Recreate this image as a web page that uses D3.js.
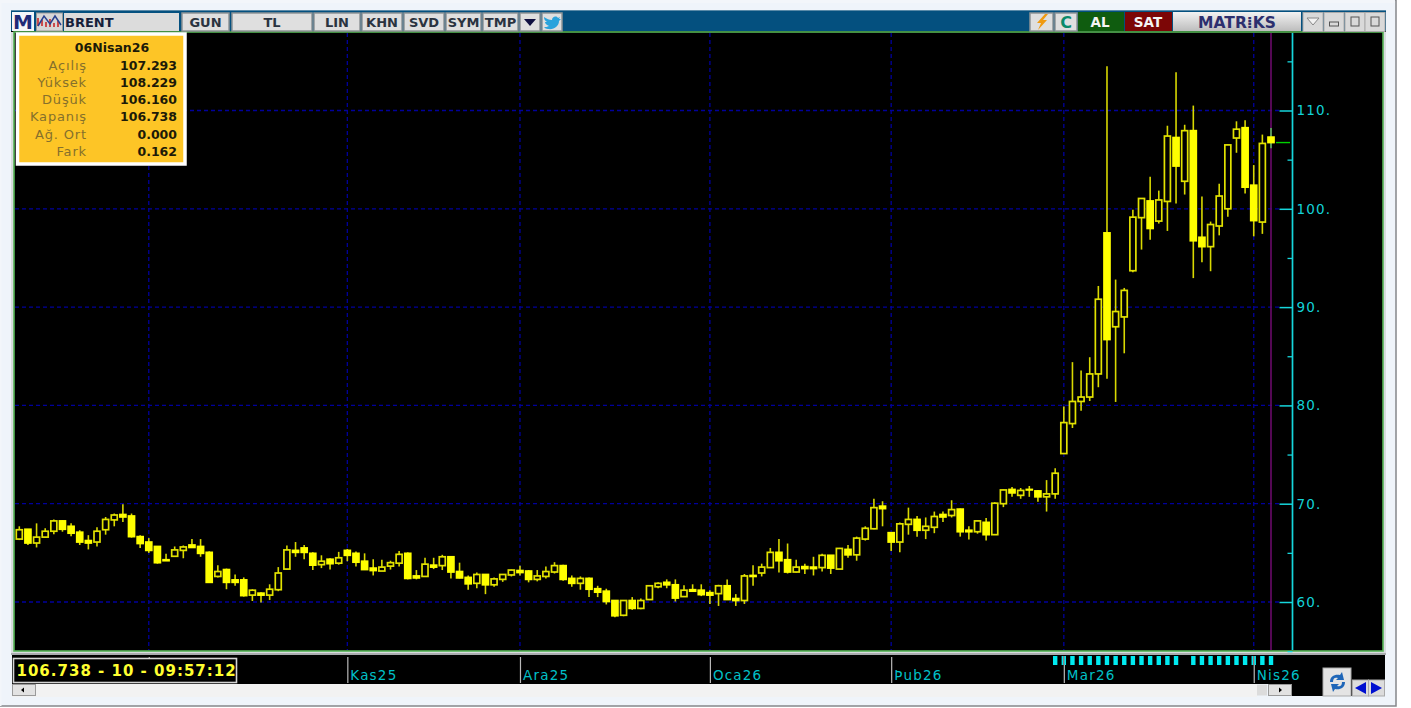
<!DOCTYPE html>
<html lang="tr">
<head>
<meta charset="UTF-8">
<title>BRENT</title>
<script src="https://d3js.org/d3.v7.min.js"></script>
<style>
  html, body { margin: 0; padding: 0; background: #fff; overflow: hidden; }
  svg { display: block; font-family: "DejaVu Sans", sans-serif; }
  .btn { fill: #dfdfdf; stroke: #8f9497; stroke-width: 1.5; }
  .btnText { font-family: "DejaVu Sans", sans-serif; font-size: 13px; font-weight: 700; fill: #2a3340; text-anchor: middle; }
  .axis path, .axis line { fill: none; }
  .infoLabel { font-size: 13px; fill: #85702c; text-anchor: end; letter-spacing: 0.85px; }
  .infoValue { font-size: 12.5px; font-weight: 700; fill: #1c1a08; text-anchor: end; }
</style>
</head>
<body>
<div id="chart"></div>
<script>
const opens = [
  66.4,67.4,66.0,66.6,67.2,68.25,67.7,67.1,66.25,66.1,
  67.35,68.35,68.9,68.75,66.65,66.1,65.65,64.3,64.65,65.25,
  65.8,65.65,65.05,62.6,63.3,62.25,62.25,60.7,60.9,60.7,
  61.25,63.35,65.25,65.5,64.95,63.8,64.35,63.95,65.25,64.95,
  64.15,63.45,63.15,63.65,63.95,64.95,62.65,62.6,63.75,63.7,
  64.6,63.1,62.5,61.9,62.8,61.75,62.3,62.75,63.2,63.15,
  62.3,62.6,63.05,63.7,62.4,61.9,62.4,61.35,61.1,60.15,
  58.65,60.15,59.35,60.25,61.55,62.0,61.75,60.55,61.25,61.2,
  60.95,60.85,61.65,60.35,60.15,62.7,62.95,63.5,65.05,64.3,
  63.05,63.6,63.55,63.5,64.75,63.35,65.35,64.8,66.4,67.45,
  69.75,67.05,66.1,67.9,68.4,67.3,67.6,68.9,68.8,69.45,
  67.3,67.15,68.1,66.85,70.0,71.45,70.85,71.45,71.3,70.7,
  71.0,75.1,78.15,80.4,80.85,83.2,97.55,88.0,89.0,93.7,
  99.1,100.8,98.75,100.75,107.25,102.8,107.95,97.1,96.15,98.25,
  100.0,107.2,108.25,102.4,98.65,107.293
];
const highs = [
  67.7,67.4,68.0,67.5,68.4,68.3,68.0,67.3,66.8,67.6,
  68.65,69.0,69.95,69.0,66.8,66.5,65.7,64.9,65.65,65.75,
  66.4,66.4,65.15,63.75,63.4,62.8,62.5,61.3,61.0,61.8,
  63.55,65.75,66.1,65.8,65.05,64.75,64.45,65.1,65.4,65.15,
  64.95,64.35,64.3,64.2,65.2,65.05,63.25,64.5,64.5,64.8,
  64.6,64.0,62.7,63.0,62.85,62.5,62.85,63.3,63.7,63.25,
  63.25,63.6,64.05,63.8,62.7,62.6,62.5,61.65,61.35,60.2,
  60.2,60.5,60.35,61.65,62.0,62.3,62.3,61.7,61.8,61.8,
  61.2,61.75,62.3,60.8,62.85,63.75,63.9,65.5,66.4,65.95,
  64.3,63.9,64.6,64.9,64.75,65.5,65.8,66.65,67.7,70.5,
  70.25,67.1,68.1,69.6,68.75,68.6,69.2,69.2,70.35,69.5,
  67.7,68.3,68.55,70.15,71.45,71.7,71.6,71.8,71.4,72.4,
  73.6,79.9,84.4,83.55,84.9,92.15,114.5,92.8,91.95,99.9,
  101.1,103.25,101.85,108.45,113.9,108.55,110.5,101.25,98.7,102.55,
  106.55,108.9,109.0,104.45,107.55,108.229
];
const lows = [
  66.3,65.8,65.55,66.5,66.9,67.15,66.7,65.8,65.35,65.65,
  66.85,67.7,68.15,66.55,65.5,65.0,63.9,64.2,64.6,64.45,
  65.5,64.6,61.95,62.5,61.3,61.65,60.55,60.1,59.95,60.2,
  61.1,63.3,64.6,64.35,63.25,63.45,63.3,63.8,64.15,63.6,
  63.3,62.7,63.15,63.3,63.6,62.3,62.3,62.6,63.35,63.25,
  62.4,62.4,61.25,61.4,60.8,61.55,62.05,62.6,62.7,62.0,
  62.1,62.4,62.9,62.15,61.55,61.25,60.5,60.5,59.75,58.45,
  58.55,59.2,59.25,60.2,61.4,61.4,60.05,60.5,61.1,60.6,
  59.8,59.6,60.2,59.6,59.8,61.65,62.6,63.5,63.0,62.9,
  63.0,62.85,62.7,63.1,62.85,63.35,64.5,64.2,66.25,67.4,
  67.7,65.2,65.05,66.85,66.65,66.4,67.0,68.15,68.6,66.65,
  66.35,66.95,66.25,66.85,69.65,70.7,70.5,70.7,70.2,69.2,
  70.5,75.05,77.7,79.45,80.45,81.85,82.7,80.35,85.3,93.55,
  95.85,96.85,98.5,97.75,100.55,101.45,92.95,94.55,93.65,97.3,
  99.2,105.7,101.55,97.2,97.45,106.16
];
const closes = [
  67.35,66.0,66.6,67.2,68.25,67.4,67.0,66.1,66.0,67.2,
  68.4,68.85,68.65,66.65,65.95,65.25,64.0,64.2,65.3,65.6,
  65.55,64.95,62.0,63.1,62.0,62.0,60.65,61.2,60.7,61.3,
  62.95,65.3,65.05,65.05,63.75,64.15,63.9,64.5,64.75,64.05,
  63.3,63.2,63.55,64.0,64.85,62.4,62.45,63.85,63.55,64.6,
  63.05,62.45,61.85,62.8,61.75,62.35,62.8,63.25,63.0,62.3,
  62.65,63.1,63.7,62.3,61.9,62.4,61.3,61.0,60.05,58.6,
  60.15,59.35,60.15,61.65,61.9,61.75,60.4,61.2,61.1,60.75,
  60.7,61.65,60.25,60.15,62.65,62.6,63.55,65.05,64.2,63.05,
  63.55,63.4,63.4,64.75,63.45,65.45,64.8,66.5,67.5,69.6,
  69.5,66.1,67.95,68.4,67.3,67.7,68.7,68.65,69.4,67.15,
  67.15,68.25,66.85,70.05,71.4,71.1,71.35,71.4,70.7,71.0,
  73.1,78.25,80.4,80.85,83.2,90.8,86.7,89.55,91.7,99.15,
  101.05,98.0,100.9,107.4,104.35,107.95,96.75,96.15,98.4,101.3,
  106.5,108.1,102.2,98.8,106.65,106.738
];

// first bar of each month and what the time axis calls it
const monthBars = [15, 38, 58, 80, 101, 121, 143];
const monthLabels = ["", "Kas25", "Ara25", "Oca26", "Þub26", "Mar26", "Nis26"];
const majorTicks = [60, 70, 80, 90, 100, 110];
const minorTicks = [55, 65, 75, 85, 95, 105, 115];
// bars carrying a cyan marker above the time axis
const markerBars = [120,121,122,123,124,125,126,127,128,129,130,131,132,133,134,136,137,138,139,140,141,142,143,144,145];

const infoDate = "06Nisan26";
const infoLabels = ["Açılış", "Yüksek", "Düşük", "Kapanış", "Ağ. Ort", "Fark"];
const infoValues = ["107.293", "108.229", "106.160", "106.738", "0.000", "0.162"];
const statusText = "106.738 - 10 - 09:57:12";

const leftButtons = [["GUN",182,47],["TL",232,80],["LIN",314,46],["KHN",362,40],["SVD",404,40],["SYM",446,35],["TMP",483,35]];
const width = 1411, height = 708;

const svg = d3.select("#chart").append("svg").attr("width", width).attr("height", height);

// window
svg.append("rect").attr("width", width).attr("height", height).attr("fill", "#ffffff");
svg.append("rect").attr("x", 0).attr("y", 0).attr("width", 1396).attr("height", 706)
  .attr("fill", "#eff4fa").attr("stroke", "#85878a").attr("stroke-width", 1.5);
svg.append("rect").attr("x", 0).attr("y", 0).attr("width", 1395).attr("height", 3).attr("fill", "#f3f6fa");
svg.append("rect").attr("x", 0).attr("y", 0).attr("width", 1.5).attr("height", 706).attr("fill", "#f3f6fa");

const btnGrad = svg.append("defs").append("linearGradient").attr("id", "matriks").attr("x2", 0).attr("y2", 1);
btnGrad.append("stop").attr("offset", "0").attr("stop-color", "#f2f2f2");
btnGrad.append("stop").attr("offset", "1").attr("stop-color", "#bdbdbd");

svg.append("rect").attr("x", 11).attr("y", 10).attr("width", 1375).attr("height", 22).attr("fill", "#04507f");
svg.append("rect").attr("x", 11).attr("y", 10).attr("width", 1375).attr("height", 1).attr("fill", "#5a8aa8");

// chart panel
const panel = { left: 15, right: 1382, top: 33, bottom: 650 };
svg.append("rect").attr("x", 11).attr("y", 31).attr("width", 1375).attr("height", 624).attr("fill", "#d8dcde");
svg.append("rect").attr("x", 11).attr("y", 31).attr("width", 1375).attr("height", 1).attr("fill", "#000");
svg.append("rect").attr("x", panel.left - 1).attr("y", panel.top - 1)
  .attr("width", panel.right - panel.left + 2).attr("height", panel.bottom - panel.top + 2)
  .attr("fill", "#000").attr("stroke", "#55b455").attr("stroke-width", 1.6);

const x = d3.scaleLinear().domain([0, closes.length - 1]).range([19.3, 1271]);
const y = d3.scaleLinear().domain([60, 110]).range([602, 110.5]);

// grid
const grid = svg.append("g").attr("stroke", "#00009c").attr("stroke-width", 1.3).attr("stroke-dasharray", "4 3");
grid.selectAll(".h").data(majorTicks).join("line")
  .attr("x1", panel.left).attr("x2", 1280)
  .attr("y1", d => y(d)).attr("y2", d => y(d));
grid.selectAll(".v").data(monthBars).join("line")
  .attr("x1", d => x(d)).attr("x2", d => x(d))
  .attr("y1", panel.top).attr("y2", panel.bottom);

// cursor line on the last bar
const lastBar = closes.length - 1;
svg.append("line").attr("x1", x(lastBar)).attr("x2", x(lastBar))
  .attr("y1", panel.top).attr("y2", panel.bottom)
  .attr("stroke", "#6a0a6a").attr("stroke-width", 1.6);

// candles
const bars = d3.range(closes.length).map(i => ({
  i, open: opens[i], high: highs[i], low: lows[i], close: closes[i]
}));
const candle = svg.append("g").selectAll("g").data(bars).join("g");
candle.append("line")
  .attr("x1", d => x(d.i)).attr("x2", d => x(d.i))
  .attr("y1", d => y(d.high)).attr("y2", d => y(d.low))
  .attr("stroke", d => d.i === lastBar ? "#58b858" : "#d8d800")
  .attr("stroke-width", 1.6);
candle.append("rect")
  .attr("x", d => x(d.i) - 3)
  .attr("width", 6)
  .attr("y", d => y(Math.max(d.open, d.close)))
  .attr("height", d => Math.abs(y(d.open) - y(d.close)))
  .attr("fill", d => d.close >= d.open ? "#000" : "#ffff00")
  .attr("stroke", d => d.close >= d.open ? "#e2e200" : "#ffff00")
  .attr("stroke-width", 1.7);

// price axis
svg.append("line").attr("x1", 1276).attr("x2", 1290)
  .attr("y1", y(closes[lastBar])).attr("y2", y(closes[lastBar]))
  .attr("stroke", "#00d000").attr("stroke-width", 1.4);

const tickAxis = svg.append("g").attr("class", "axis").attr("transform", "translate(1292.5,0)");
tickAxis.call(d3.axisLeft(y).tickValues(majorTicks).tickSize(13).tickFormat(""));
tickAxis.selectAll("line").attr("stroke", "#16d6dc").attr("stroke-width", 1.5);
tickAxis.select("path").remove();
const minorAxis = svg.append("g").attr("class", "axis").attr("transform", "translate(1292.5,0)");
minorAxis.call(d3.axisLeft(y).tickValues(minorTicks).tickSize(5).tickFormat(""));
minorAxis.selectAll("line").attr("stroke", "#16d6dc").attr("stroke-width", 1.3);
minorAxis.select("path").remove();
svg.append("line").attr("x1", 1292.5).attr("x2", 1292.5).attr("y1", panel.top).attr("y2", panel.bottom)
  .attr("stroke", "#16d6dc").attr("stroke-width", 1.7);

const priceLabels = svg.append("g").attr("class", "axis").attr("transform", "translate(1292.5,0)");
priceLabels.call(d3.axisRight(y).tickValues(majorTicks).tickSize(0).tickPadding(4).tickFormat(d => d + "."));
priceLabels.select("path").remove();
priceLabels.selectAll("text").attr("fill", "#12d2d8").attr("font-size", 13.5).attr("letter-spacing", "1.2px")
  .attr("font-family", "DejaVu Sans");

// time axis
svg.append("rect").attr("x", 11).attr("y", 653).attr("width", 1375).attr("height", 2).attr("fill", "#a9acae");
svg.append("rect").attr("x", 12).attr("y", 655).attr("width", 1373).attr("height", 29).attr("fill", "#000");
svg.append("rect").attr("x", 1292).attr("y", 684).attr("width", 60).attr("height", 12).attr("fill", "#000");

const timeAxis = svg.append("g").attr("class", "axis").attr("transform", "translate(0,683)");
timeAxis.call(d3.axisTop(x).tickValues(monthBars).tickSize(26).tickFormat((d, i) => monthLabels[i]));
timeAxis.select("path").remove();
timeAxis.selectAll("line").attr("stroke", "#b9b9b9").attr("stroke-width", 1.2);
timeAxis.selectAll("text").attr("fill", "#00c0c8").attr("font-size", 13.5).attr("letter-spacing", "1.2px")
  .attr("font-family", "DejaVu Sans").attr("text-anchor", "start")
  .attr("x", 2.5).attr("y", -3);

svg.append("g").selectAll("rect").data(markerBars).join("rect")
  .attr("x", d => x(d) - 2.2).attr("width", 4.4).attr("y", 656).attr("height", 9).attr("fill", "#00eaf0");
svg.append("g").selectAll("line").data(monthBars.filter(d => markerBars.includes(d))).join("line")
  .attr("x1", d => x(d)).attr("x2", d => x(d)).attr("y1", 656).attr("y2", 665)
  .attr("stroke", "#c05050").attr("stroke-width", 1);

// status box
svg.append("rect").attr("x", 13.5).attr("y", 658.5).attr("width", 223).attr("height", 24)
  .attr("fill", "#000").attr("stroke", "#d4d4d4").attr("stroke-width", 1.6);
svg.append("text").attr("x", 16.5).attr("y", 676).attr("font-size", 15).attr("font-weight", 700)
  .attr("letter-spacing", "1px").attr("fill", "#ffff30").text(statusText);

// scroll bar
svg.append("rect").attr("x", 12).attr("y", 684).attr("width", 1245).attr("height", 13).attr("fill", "#f2f2f2");
const scrollBtn = svg.append("g");
scrollBtn.append("rect").attr("x", 12.5).attr("y", 684.5).attr("width", 23).attr("height", 11).attr("fill", "#e2e2e2").attr("stroke", "#9a9a9a");
scrollBtn.append("path").attr("d", "M21 690l3-2.5v5z").attr("fill", "#000");
scrollBtn.append("rect").attr("x", 1257).attr("y", 684.5).attr("width", 10).attr("height", 11).attr("fill", "#dcdcdc");
scrollBtn.append("rect").attr("x", 1268.5).attr("y", 684.5).attr("width", 23).attr("height", 11).attr("fill", "#e2e2e2").attr("stroke", "#9a9a9a");
scrollBtn.append("path").attr("d", "M1279 687.5l3 2.5-3 2.5z").attr("fill", "#000");

const navBtn = svg.append("g");
navBtn.append("rect").attr("x", 1323).attr("y", 668).attr("width", 28).attr("height", 28).attr("fill", "#e4e4e4").attr("stroke", "#aaa");
navBtn.append("path").attr("d", "M1330 682c0-6 5-8 10-7l2-3 2 8-8 0 2-2c-3-1-5 0-5 4zM1345 682c0 6-5 8-10 7l-2 3-2-8 8 0-2 2c3 1 5 0 5-4z").attr("fill", "#1f66b8");
navBtn.append("rect").attr("x", 1352.5).attr("y", 680).attr("width", 16).attr("height", 16).attr("fill", "#dcdcdc").attr("stroke", "#aaa");
navBtn.append("rect").attr("x", 1368.5).attr("y", 680).attr("width", 16).attr("height", 16).attr("fill", "#dcdcdc").attr("stroke", "#aaa");
navBtn.append("path").attr("d", "M1355 688l11-6v12z").attr("fill", "#0010d0");
navBtn.append("path").attr("d", "M1382 688l-11-6v12z").attr("fill", "#0010d0");

// toolbar, left side
const bar = svg.append("g");
bar.append("rect").attr("x", 12).attr("y", 12).attr("width", 22).attr("height", 19).attr("fill", "#f4f6fa");
bar.append("text").attr("x", 23).attr("y", 29).attr("text-anchor", "middle").attr("font-size", 20).attr("font-weight", 700)
  .attr("fill", "#1f2a78").text("M");
bar.append("rect").attr("x", 36.5).attr("y", 13).attr("width", 26).attr("height", 18).attr("fill", "#d6d6d6").attr("stroke", "#9a9a9a");
bar.append("path").attr("d", "M38 18v8M42 20v6M46 22v5M50 19v8M54 23v4M58 21v6").attr("stroke", "#c9282a").attr("stroke-width", 1.6);
bar.append("path").attr("d", "M38 26l6-10 6 8 5-8 6 9").attr("fill", "none").attr("stroke", "#27408f").attr("stroke-width", 1.5);
bar.append("rect").attr("x", 64).attr("y", 13).attr("width", 115).attr("height", 18).attr("fill", "#dcdcdc");
bar.append("text").attr("class", "btnText").attr("x", 65).attr("y", 27).style("text-anchor", "start").style("fill", "#16203a").text("BRENT");

leftButtons.forEach(b => {
  bar.append("rect").attr("class", "btn").attr("x", b[1]).attr("y", 13).attr("width", b[2]).attr("height", 18);
  bar.append("text").attr("class", "btnText").attr("x", b[1] + b[2] / 2).attr("y", 27).text(b[0]);
});
bar.append("rect").attr("class", "btn").attr("x", 520).attr("y", 13).attr("width", 20).attr("height", 18);
bar.append("path").attr("d", "M524 19h12l-6 7z").attr("fill", "#101040");
bar.append("rect").attr("class", "btn").attr("x", 542).attr("y", 13).attr("width", 20).attr("height", 18);
bar.append("path").attr("d", "M544 17c3 2 5 3 8 3 0-3 4-5 6-2l2-1-1 2 2 0-2 2c0 5-5 9-11 8-2 0-3-1-4-2 2 0 3 0 5-1-3-1-4-3-4-4h2c-2-1-3-3-3-5z").attr("fill", "#2aa3dc");

// toolbar, right side
bar.append("rect").attr("class", "btn").attr("x", 1030).attr("y", 13).attr("width", 23).attr("height", 18);
bar.append("path").attr("d", "M1045 14l-8 9h4l-3 7 9-10h-4l5-6z").attr("fill", "#f09a10");
bar.append("rect").attr("class", "btn").attr("x", 1055).attr("y", 13).attr("width", 22).attr("height", 18);
bar.append("text").attr("x", 1066).attr("y", 27.5).attr("text-anchor", "middle").attr("font-size", 16).attr("font-weight", 700).attr("fill", "#0a8a6a").text("C");
bar.append("rect").attr("x", 1078).attr("y", 12).attr("width", 46).attr("height", 19).attr("fill", "#0f5c0f");
bar.append("text").attr("x", 1100).attr("y", 27).attr("text-anchor", "middle").attr("font-size", 13.5).attr("font-weight", 700).attr("fill", "#f4f4f4").text("AL");
bar.append("rect").attr("x", 1125).attr("y", 12).attr("width", 47).attr("height", 19).attr("fill", "#7c0606");
bar.append("text").attr("x", 1148).attr("y", 27).attr("text-anchor", "middle").attr("font-size", 13.5).attr("font-weight", 700).attr("fill", "#f4f4f4").text("SAT");
bar.append("rect").attr("x", 1173).attr("y", 12).attr("width", 128).attr("height", 19).attr("fill", "url(#matriks)");
bar.append("text").attr("x", 1237).attr("y", 27.5).attr("text-anchor", "middle").attr("font-size", 15.5).attr("font-weight", 700)
  .attr("fill", "#2c2f6e").text("MATR⁞KS");
[1303, 1324, 1345, 1365].forEach(px => {
  bar.append("rect").attr("x", px).attr("y", 12.5).attr("width", 20).attr("height", 19).attr("fill", "#d9d9d9").attr("stroke", "#aaa");
});
bar.append("path").attr("d", "M1307 18h12l-6 7z").attr("fill", "#f2f2f2").attr("stroke", "#888");
bar.append("rect").attr("x", 1329.5).attr("y", 22).attr("width", 9).attr("height", 4).attr("fill", "none").attr("stroke", "#555");
bar.append("rect").attr("x", 1351).attr("y", 17).attr("width", 8).attr("height", 9).attr("fill", "none").attr("stroke", "#555");
bar.append("rect").attr("x", 1371).attr("y", 17).attr("width", 8).attr("height", 9).attr("fill", "none").attr("stroke", "#555");

// info box
const info = svg.append("g");
info.append("rect").attr("x", 17.5).attr("y", 34).attr("width", 167.5).attr("height", 130)
  .attr("fill", "#fdc526").attr("stroke", "#fff").attr("stroke-width", 3.5);
info.append("text").attr("x", 112).attr("y", 51.5).attr("text-anchor", "middle").attr("font-size", 12.5).attr("font-weight", 700)
  .attr("fill", "#1c1a08").text(infoDate);
info.selectAll(".infoLabel").data(infoLabels).join("text").attr("class", "infoLabel")
  .attr("x", 87).attr("y", (d, i) => 69.5 + i * 17.3).text(d => d);
info.selectAll(".infoValue").data(infoValues).join("text").attr("class", "infoValue")
  .attr("x", 177).attr("y", (d, i) => 69.5 + i * 17.3).text(d => d);
</script>
</body>
</html>
